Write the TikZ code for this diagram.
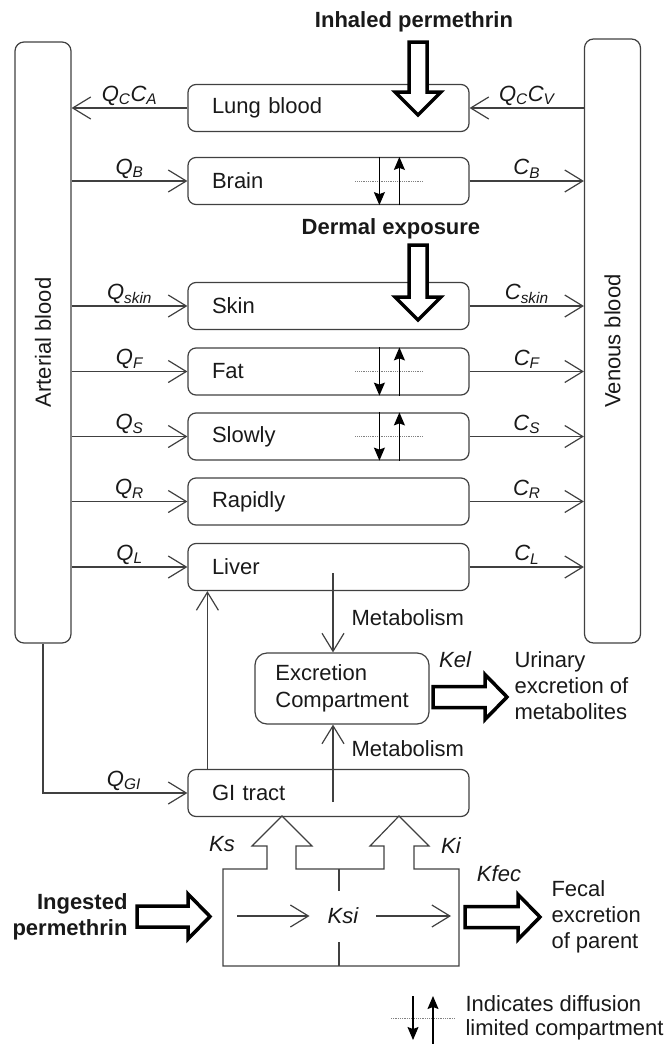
\documentclass[tikz,border=0pt]{standalone}
\usepackage{fontspec}
\setmainfont{Liberation Sans}
\usetikzlibrary{arrows.meta,positioning,calc}
\newcommand{\flow}[2]{\textit{#1\textsubscript{#2}}}
\newcommand{\diffuse}[1]{%
  \draw[dotline] ($(#1.west)+(168,0)$) -- ($(#1.west)+(236,0)$);
  \path[diffarr] ($(#1.north west)+(192,0)$) to ($(#1.south west)+(192,0)$);
  \path[diffarr] ($(#1.south west)+(212,0)$) to ($(#1.north west)+(212,0)$);}
\newcommand{\dblock}[2]{\draw[block] (#1) -- ++(-23,-23) -- ++(14,0) -- ++(0,-#2) -- ++(18,0) -- ++(0,#2) -- ++(14,0) -- cycle;}
\newcommand{\rblock}[2]{\draw[block] (#1) -- ++(-22,-22.5) -- ++(0,12) -- ++(-#2,0) -- ++(0,21) -- ++(#2,0) -- ++(0,12) -- cycle;}

\tikzset{
  organ/.style={draw=black!75, line width=1.2pt, rounded corners=8pt, minimum width=281pt,
    minimum height=47pt, inner xsep=24pt, inner ysep=0pt, text width=233pt, align=left},
  bar/.style={draw=black!75, line width=1.2pt, rounded corners=9pt, minimum width=56pt},
  flowarr/.style={draw=black!75, line width=1.2pt, -{Straight Barb[length=18pt,width=22pt]}},
  diffarr/.style={draw=black, line width=1.2pt, -{Stealth[length=13pt,width=11pt,inset=2pt]}},
  dotline/.style={draw=black!50, line width=0.8pt, densely dotted},
  block/.style={draw=black, line width=3.5pt, fill=white, line join=miter},
  lab/.style={above, inner sep=2pt},
}

\begin{document}
\begin{tikzpicture}[x=1pt, y=-1pt, font=\fontsize{22}{26}\selectfont, text=black!90]
  \useasboundingbox (0,0) rectangle (665,1044);
  %nodes
  \node[bar, minimum height=601pt] (art) at (43,342.5) {};
  \node[rotate=90] (artlab) at (art.center) {Arterial blood};
  \node[bar, minimum height=604pt] (ven) at (612.5,341) {};
  \node[rotate=90] (venlab) at (ven.center) {Venous blood};
  \node[organ] (lung) at (328.5,108) {Lung blood};
  \node[organ] (brain) at (328.5,181) {Brain};
  \node[organ] (skin) at (328.5,306) {Skin};
  \node[organ] (fat) at (328.5,371.5) {Fat};
  \node[organ] (slowly) at (328.5,436.5) {Slowly};
  \node[organ] (rapidly) at (328.5,501.5) {Rapidly};
  \node[organ] (liver) at (328.5,567) {Liver};
  \node[organ] (gi) at (328.5,793) {GI tract};
  \node[draw=black!75, line width=1.2pt, rounded corners=12pt, minimum width=174pt,
    minimum height=71pt, align=left, inner sep=0pt] (excr) at (342,688.5) {Excretion\\[1pt]Compartment};
  \node[font=\fontsize{22}{26}\selectfont\bfseries] (inhal) at (414,22) {Inhaled permethrin};
  \node[font=\fontsize{22}{26}\selectfont\bfseries] (dermal) at (391,229) {Dermal exposure};
  \node[font=\fontsize{22}{26}\selectfont\bfseries, align=right, anchor=east] (ingest) at (131,916.5) {Ingested\\permethrin};
  \node[font=\fontsize{22}{26}\selectfont\itshape] (kel) at (455,660) {Kel};
  \node[align=left, anchor=west] (urin) at (511,686) {Urinary\\excretion of\\metabolites};
  \node[font=\fontsize{22}{26}\selectfont\itshape] (ks) at (222,844) {Ks};
  \node[font=\fontsize{22}{26}\selectfont\itshape] (ki) at (451,846) {Ki};
  \node[font=\fontsize{22}{26}\selectfont\itshape, inner xsep=18pt] (ksi) at (343,916) {Ksi};
  \node[font=\fontsize{22}{26}\selectfont\itshape] (kfec) at (499,874) {Kfec};
  \node[align=left, anchor=west] (fecal) at (548,917) {Fecal\\excretion\\of parent};
  \node[align=left, anchor=west, font=\fontsize{22}{24}\selectfont] (legend) at (462,1018) {Indicates diffusion\\limited compartment};
  \coordinate (inhtip) at (418,115);
  \coordinate (dermtip) at (418,320);
  \coordinate (livmet) at (333,573);
  \coordinate (gimet) at (333,802);
  %lower gut compartment
  \draw[draw=black!75, line width=1.2pt] (223,869) -- (267,869) -- (267,846) -- (252,846) -- (282,816)
    -- (312,846) -- (296,846) -- (296,869) -- (384,869) -- (384,846) -- (370,846) -- (399,816)
    -- (429,846) -- (414,846) -- (414,869) -- (459,869) -- (459,966) -- (223,966) -- cycle;
  \draw[draw=black!75, line width=1.2pt] (339,869) -- (339,891) (339,942) -- (339,966);
  %block arrows
  \dblock{inhtip}{50}
  \dblock{dermtip}{52}
  \rblock{507,697}{52}
  \rblock{ingest.east -| 210,0}{51}
  \rblock{540,917}{53}
  %edges
  \path[flowarr] (lung.west) to node[lab]{\flow{Q}{C}\flow{C}{A}} (art.east |- lung.west);
  \path[flowarr] (ven.west |- lung.east) to node[lab]{\flow{Q}{C}\flow{C}{V}} (lung.east);
  \path[flowarr] (art.east |- brain.west) to node[lab]{\flow{Q}{B}} (brain.west);
  \path[flowarr] (brain.east) to node[lab]{\flow{C}{B}} (ven.west |- brain.east);
  \path[flowarr] (art.east |- skin.west) to node[lab]{\flow{Q}{skin}} (skin.west);
  \path[flowarr] (skin.east) to node[lab]{\flow{C}{skin}} (ven.west |- skin.east);
  \path[flowarr] (art.east |- fat.west) to node[lab]{\flow{Q}{F}} (fat.west);
  \path[flowarr] (fat.east) to node[lab]{\flow{C}{F}} (ven.west |- fat.east);
  \path[flowarr] (art.east |- slowly.west) to node[lab]{\flow{Q}{S}} (slowly.west);
  \path[flowarr] (slowly.east) to node[lab]{\flow{C}{S}} (ven.west |- slowly.east);
  \path[flowarr] (art.east |- rapidly.west) to node[lab]{\flow{Q}{R}} (rapidly.west);
  \path[flowarr] (rapidly.east) to node[lab]{\flow{C}{R}} (ven.west |- rapidly.east);
  \path[flowarr] (art.east |- liver.west) to node[lab]{\flow{Q}{L}} (liver.west);
  \path[flowarr] (liver.east) to node[lab]{\flow{C}{L}} (ven.west |- liver.east);
  \path[flowarr] (art.south) |- node[lab, pos=0.78]{\flow{Q}{GI}} (gi.west);
  \path[flowarr] ($(gi.north west)+(20,0)$) to ($(liver.south west)+(20,0)$);
  \path[flowarr] (livmet) to node[right=18pt, pos=0.56, inner sep=0pt]{Metabolism} (livmet |- excr.north);
  \path[flowarr] (gimet) to node[right=18pt, pos=0.69, inner sep=0pt]{Metabolism} (gimet |- excr.south);
  \path[flowarr] (237,916) to (ksi.west);
  \path[flowarr] (ksi.east) to (451,916);
  %diffusion limited
  \diffuse{brain}
  \diffuse{fat}
  \diffuse{slowly}
  \draw[dotline] (391,1018) -- (455,1018);
  \path[diffarr] (413,996) to (413,1040);
  \path[diffarr] (433,1044) to (433,996);
\end{tikzpicture}
\end{document}
